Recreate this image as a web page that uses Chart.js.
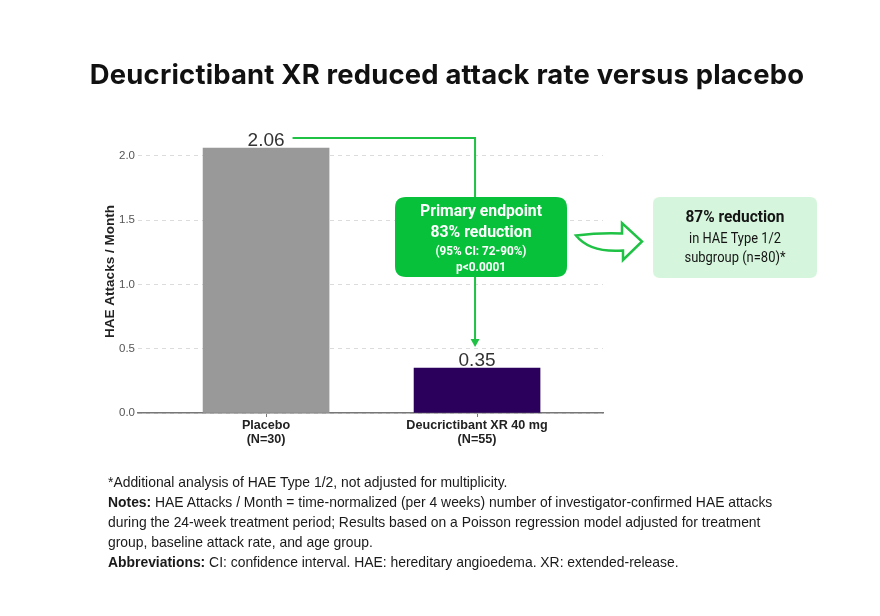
<!DOCTYPE html>
<html>
<head>
<meta charset="utf-8">
<script src="https://cdn.jsdelivr.net/npm/chart.js@4/dist/chart.umd.min.js"></script>
<style>
  html, body { margin: 0; padding: 0; background: #ffffff; }
  #wrap { position: relative; width: 880px; height: 616px; overflow: hidden; background: #fff; }
  #c { position: absolute; left: 0; top: 0; }
  #title { position: absolute; left: 0; top: 57px; width: 894px; text-align: center;
    font-family: Inter, "Liberation Sans", sans-serif; font-weight: 700; font-size: 27.4px; color: #111; letter-spacing: 0.2px; }
  #notes { position: absolute; left: 108px; top: 472px; width: 760px; white-space: nowrap;
    font-family: "Liberation Sans", Arial, sans-serif; font-size: 13.9px; line-height: 20px; color: #1a1a1a; }
  #notes b { font-weight: 700; }
</style>
</head>
<body>
<div id="wrap">
  <canvas id="c" width="880" height="616"></canvas>
  <div id="title">Deucrictibant XR reduced attack rate versus placebo</div>
  <div id="notes">
    <div>*Additional analysis of HAE Type 1/2, not adjusted for multiplicity.</div>
    <div><b>Notes:</b> HAE Attacks / Month = time-normalized (per 4 weeks) number of investigator-confirmed HAE attacks</div>
    <div>during the 24-week treatment period; Results based on a Poisson regression model adjusted for treatment</div>
    <div>group, baseline attack rate, and age group.</div>
    <div><b>Abbreviations:</b> CI: confidence interval. HAE: hereditary angioedema. XR: extended-release.</div>
  </div>
</div>
<script>
const categories = ['Placebo', 'Deucrictibant XR 40 mg'];
const sampleSizes = ['(N=30)', '(N=55)'];
const attackRates = [2.06, 0.35];
const yTickValues = [0, 0.5, 1.0, 1.5, 2.0];
const barColors = ['#999999', '#2b005c'];
const primaryBoxLines = ['Primary endpoint', '83% reduction', '(95% CI: 72-90%)', 'p<0.0001'];
const subgroupBoxLines = ['87% reduction', 'in HAE Type 1/2', 'subgroup (n=80)*'];

function fitText(ctx, text, cx, cy, font, targetW, color) {
  ctx.save();
  ctx.font = font;
  const m = ctx.measureText(text).width;
  ctx.translate(cx, cy);
  ctx.scale(Math.min(1.15, targetW / m), 1);
  ctx.fillStyle = color;
  ctx.textAlign = 'center';
  ctx.textBaseline = 'middle';
  ctx.fillText(text, 0, 0);
  ctx.restore();
}
function roundRect(ctx, x, y, w, h, r) {
  ctx.beginPath();
  ctx.moveTo(x + r, y);
  ctx.lineTo(x + w - r, y);
  ctx.quadraticCurveTo(x + w, y, x + w, y + r);
  ctx.lineTo(x + w, y + h - r);
  ctx.quadraticCurveTo(x + w, y + h, x + w - r, y + h);
  ctx.lineTo(x + r, y + h);
  ctx.quadraticCurveTo(x, y + h, x, y + h - r);
  ctx.lineTo(x, y + r);
  ctx.quadraticCurveTo(x, y, x + r, y);
  ctx.closePath();
}

const annotate = {
  id: 'annotate',
  afterDatasetsDraw(chart) {
    const ctx = chart.ctx;
    const xs = chart.scales.x, ys = chart.scales.y;
    const green = '#1fc244';
    // value labels
    ctx.save();
    ctx.font = '19px "Liberation Sans", Arial, sans-serif';
    ctx.fillStyle = '#333333';
    ctx.textAlign = 'center';
    ctx.textBaseline = 'alphabetic';
    const labelW = [];
    attackRates.forEach((v, i) => {
      const t = v.toFixed(2);
      labelW.push(ctx.measureText(t).width);
      ctx.fillText(t, xs.getPixelForValue(i), ys.getPixelForValue(v) - 2);
    });
    ctx.restore();

    // connector line with arrow
    const p0 = xs.getPixelForValue(0), p1 = xs.getPixelForValue(1);
    const yLine = ys.getPixelForValue(attackRates[0]) - 10;
    const xStart = p0 + labelW[0] / 2 + 8;
    const xTurn = p1 - 2;
    const yTip = ys.getPixelForValue(attackRates[1]) - 21;
    ctx.save();
    ctx.strokeStyle = green;
    ctx.lineWidth = 2;
    ctx.beginPath();
    ctx.moveTo(xStart, yLine);
    ctx.lineTo(xTurn, yLine);
    ctx.lineTo(xTurn, yTip - 6);
    ctx.stroke();
    ctx.fillStyle = green;
    ctx.beginPath();
    ctx.moveTo(xTurn - 4.5, yTip - 8);
    ctx.lineTo(xTurn + 4.5, yTip - 8);
    ctx.lineTo(xTurn, yTip);
    ctx.closePath();
    ctx.fill();
    ctx.restore();

    // primary endpoint box
    ctx.save();
    ctx.fillStyle = '#07c13a';
    roundRect(ctx, 395, 197, 172, 80, 11);
    ctx.fill();
    ctx.restore();
    const bx = 481;
    fitText(ctx, primaryBoxLines[0], bx, 212, 'bold 16px Roboto, sans-serif', 122, '#ffffff');
    fitText(ctx, primaryBoxLines[1], bx, 233, 'bold 17px Roboto, sans-serif', 101, '#ffffff');
    fitText(ctx, primaryBoxLines[2], bx, 252, 'bold 12.5px Roboto, sans-serif', 91, '#ffffff');
    fitText(ctx, primaryBoxLines[3], bx, 268, 'bold 12.5px Roboto, sans-serif', 50, '#ffffff');

    // block arrow
    ctx.save();
    ctx.strokeStyle = green;
    ctx.fillStyle = '#ffffff';
    ctx.lineWidth = 2.5;
    ctx.lineJoin = 'miter';
    ctx.beginPath();
    ctx.moveTo(576, 235.5);
    ctx.quadraticCurveTo(600, 232.5, 622, 233.5);
    ctx.lineTo(622, 223);
    ctx.lineTo(642, 241.5);
    ctx.lineTo(623, 260);
    ctx.lineTo(623, 250.5);
    ctx.quadraticCurveTo(590, 253, 576, 235.5);
    ctx.closePath();
    ctx.fill();
    ctx.stroke();
    ctx.restore();

    // subgroup box
    ctx.save();
    ctx.fillStyle = '#d5f6dc';
    roundRect(ctx, 653, 197, 164, 81, 7);
    ctx.fill();
    ctx.restore();
    const rx = 735;
    fitText(ctx, subgroupBoxLines[0], rx, 218, 'bold 16px Roboto, sans-serif', 99, '#151515');
    fitText(ctx, subgroupBoxLines[1], rx, 239, '14px Roboto, sans-serif', 92, '#151515');
    fitText(ctx, subgroupBoxLines[2], rx, 258, '14px Roboto, sans-serif', 101, '#151515');
  }
};

new Chart(document.getElementById('c'), {
  type: 'bar',
  data: {
    datasets: [{
      data: categories.map((c, i) => ({ x: i, y: attackRates[i] })),
      backgroundColor: barColors,
      borderWidth: 0,
      barThickness: 126
    }]
  },
  options: {
    responsive: false,
    animation: false,
    layout: { padding: { left: 90, right: 277, top: 130, bottom: 163 } },
    plugins: { legend: { display: false }, tooltip: { enabled: false } },
    scales: {
      x: {
        type: 'linear',
        offset: false,
        min: -0.607,
        max: 1.597,
        afterBuildTicks: s => { s.ticks = categories.map((c, i) => ({ value: i })); },
        ticks: {
          callback: v => [categories[v], sampleSizes[v]],
          font: { family: '"Liberation Sans", Arial, sans-serif', weight: 'bold', size: 12.6, lineHeight: 1.08 },
          color: '#222222',
          padding: 2,
          maxRotation: 0,
          autoSkip: false
        },
        grid: { offset: false, drawOnChartArea: false, drawTicks: true, tickLength: 4, color: '#777777', lineWidth: 1 },
        border: { color: '#777777', width: 1.5 },
        afterFit: s => { s.height = 40; }
      },
      y: {
        min: 0,
        max: 2.2,
        afterBuildTicks: s => { s.ticks = yTickValues.map(v => ({ value: v })); },
        ticks: {
          callback: v => Number(v).toFixed(1),
          font: { family: '"Liberation Sans", Arial, sans-serif', size: 11.5 },
          color: '#555555',
          padding: 3
        },
        grid: { color: '#dcdcdc', drawTicks: false, lineWidth: 1 },
        border: { display: false, dash: [4, 4] },
        title: {
          display: true,
          text: 'HAE Attacks / Month',
          font: { family: '"Liberation Sans", Arial, sans-serif', weight: 'bold', size: 13.5 },
          color: '#222222',
          padding: { top: 12, bottom: 0 }
        },
        afterFit: s => { s.width = 48; }
      }
    }
  },
  plugins: [annotate]
});
</script>
</body>
</html>
